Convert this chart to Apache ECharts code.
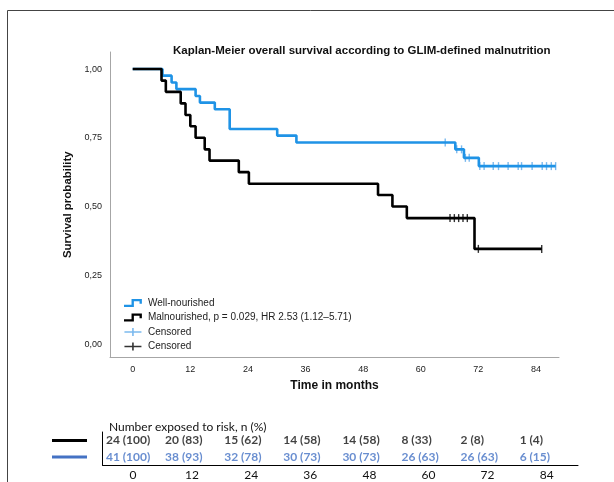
<!DOCTYPE html>
<html>
<head>
<meta charset="utf-8">
<script src="https://cdn.jsdelivr.net/npm/echarts@6/dist/echarts.min.js"></script>
<style>
  html, body { margin: 0; padding: 0; background: #fff; }
  #chart { width: 614px; height: 482px; }
</style>
</head>
<body>
<div id="chart"></div>
<script>
// Kaplan-Meier steps (months, survival probability)
const wellTimes = [0, 6.2, 8.1, 9.1, 13.1, 14, 17.1, 20.2, 30.1, 34.1, 67.2, 69, 72.1, 88.1]
const wellSurv = [1, 0.976, 0.951, 0.927, 0.902, 0.878, 0.854, 0.782, 0.758, 0.733, 0.708, 0.677, 0.647, 0.647]
const wellCensored = [65.1, 67.5, 68.5, 69.3, 70.1, 72.3, 73.2, 75.1, 76.2, 78.2, 80.3, 81.0, 83.2, 85.3, 86.2, 87.2, 88.1]

const malTimes = [0, 6.0, 6.9, 10, 11, 12, 13.1, 15, 16, 22.1, 24.2, 51.1, 54.1, 57.1, 71.2, 85.2]
const malSurv = [1, 0.958, 0.917, 0.875, 0.833, 0.792, 0.75, 0.708, 0.667, 0.625, 0.583, 0.542, 0.5, 0.458, 0.346, 0.346]
const malCensored = [66.1, 67.0, 67.9, 68.8, 69.7, 72.0, 85.2]

const xTicks = [0, 12, 24, 36, 48, 60, 72, 84]
const yTicks = [0, 0.25, 0.5, 0.75, 1]

// number at risk table
const riskTimes = [0, 12, 24, 36, 48, 60, 72, 84]
const riskMal = [24, 20, 15, 14, 14, 8, 2, 1]
const riskMalPct = [100, 83, 62, 58, 58, 33, 8, 4]
const riskWell = [41, 38, 32, 30, 30, 26, 26, 6]
const riskWellPct = [100, 93, 78, 73, 73, 63, 63, 15]

const malName = 'Malnourished, p = 0.029, HR 2.53 (1.12\u20135.71)'
const BLUE = '#1f93e6'
const TABLE_BLUE = '#4472c4'
const stepIcon = 'path://M0,7 L8,7 L8,1 L19,1 L19,6 L16.5,6 L16.5,3.5 L10.5,3.5 L10.5,9.5 L0,9.5 Z'
const plusIcon = 'path://M0,3.3 L7.7,3.3 L7.7,0 L9.3,0 L9.3,3.3 L17,3.3 L17,4.7 L9.3,4.7 L9.3,8 L7.7,8 L7.7,4.7 L0,4.7 Z'

function survAt(times, surv, t) {
  let s = surv[0]
  for (let i = 0; i < times.length; i++) {
    if (times[i] <= t) s = surv[i]
  }
  return s
}

const chart = echarts.init(document.getElementById('chart'))

chart.setOption({
  animation: false,
  backgroundColor: '#fff',
  textStyle: { fontFamily: 'Liberation Sans, Arial, sans-serif' },
  title: [
    {
      text: 'Kaplan-Meier overall survival according to GLIM-defined malnutrition',
      left: 168,
      top: 40,
      textStyle: { fontSize: 11.5, fontWeight: 'bold', color: '#111' },
    },
    {
      text: 'Number exposed to risk, n (%)',
      left: 104,
      top: 416,
      textStyle: { fontSize: 12, fontWeight: 'normal', color: '#111', fontFamily: 'Lato' },
    },
  ],
  legend: {
    orient: 'vertical',
    left: 124,
    top: 298,
    padding: 0,
    itemWidth: 20,
    itemHeight: 8,
    itemGap: 4.5,
    selectedMode: false,
    itemStyle: { borderWidth: 0 },
    textStyle: { fontSize: 10, color: '#222' },
    data: [
      { name: 'Well-nourished', icon: stepIcon },
      { name: malName, icon: stepIcon },
      { name: 'Censored', icon: plusIcon },
      { name: 'Censored ', icon: plusIcon },
    ],
  },
  grid: [
    { left: 110, right: 55, top: 52, bottom: 124.5 },
    { left: 102.5, right: 36, top: 432, bottom: 17 },
  ],
  xAxis: [
    {
      type: 'value',
      gridIndex: 0,
      min: -4.73,
      max: 88.8,
      name: 'Time in months',
      nameLocation: 'middle',
      nameGap: 21,
      nameTextStyle: { fontSize: 12, fontWeight: 'bold', color: '#111' },
      splitLine: { show: false },
      axisLine: { show: true, onZero: false, lineStyle: { color: '#a6a6a6', width: 1 } },
      axisTick: { show: false },
      axisLabel: { customValues: xTicks, fontSize: 9, color: '#222', margin: 8 },
    },
    {
      type: 'value',
      gridIndex: 1,
      min: -6.19,
      max: 90.36,
      splitLine: { show: false },
      axisLine: { show: true, onZero: false, lineStyle: { color: '#000', width: 1 } },
      axisTick: { show: false },
      axisLabel: { customValues: riskTimes, fontSize: 12, color: '#111', margin: 4, fontFamily: 'Lato' },
    },
  ],
  yAxis: [
    {
      type: 'value',
      gridIndex: 0,
      min: -0.049,
      max: 1.062,
      name: 'Survival probability',
      nameLocation: 'middle',
      nameGap: 31,
      nameTextStyle: { fontSize: 11.5, fontWeight: 'bold', color: '#111' },
      splitLine: { show: false },
      axisLine: { show: true, onZero: false, lineStyle: { color: '#a6a6a6', width: 1 } },
      axisTick: { show: false },
      axisLabel: {
        customValues: yTicks,
        fontSize: 9,
        color: '#222',
        margin: 8,
        formatter: (v) => v.toFixed(2).replace('.', ','),
      },
    },
    {
      type: 'category',
      gridIndex: 1,
      data: ['Well-nourished', 'Malnourished'],
      axisLine: { show: true, onZero: false, lineStyle: { color: '#000', width: 1 } },
      axisTick: { show: false },
      axisLabel: { show: false },
    },
  ],
  series: [
    {
      name: 'Well-nourished',
      type: 'line',
      step: 'end',
      showSymbol: false,
      color: BLUE,
      lineStyle: { color: BLUE, width: 2.6 },
      data: wellTimes.map((t, i) => [t, wellSurv[i]]),
    },
    {
      name: malName,
      type: 'line',
      step: 'end',
      showSymbol: false,
      color: '#000',
      lineStyle: { color: '#000', width: 2.6 },
      data: malTimes.map((t, i) => [t, malSurv[i]]),
    },
    {
      name: 'Censored',
      type: 'scatter',
      symbol: 'rect',
      symbolSize: [1.4, 8],
      color: '#5aa8ea',
      data: wellCensored.map((t) => [t, survAt(wellTimes, wellSurv, t)]),
    },
    {
      name: 'Censored ',
      type: 'scatter',
      symbol: 'rect',
      symbolSize: [1.4, 8],
      color: '#000',
      data: malCensored.map((t) => [t, survAt(malTimes, malSurv, t)]),
    },
    {
      type: 'scatter',
      xAxisIndex: 1,
      yAxisIndex: 1,
      symbolSize: 0,
      silent: true,
      itemStyle: { color: 'transparent' },
      label: {
        show: true,
        position: [-27, 0],
        align: 'left',
        verticalAlign: 'middle',
        fontFamily: 'Lato',
        fontSize: 12,
        fontWeight: 'bold',
        color: '#111',
        formatter: (p) => p.data[2] + ' (' + p.data[3] + ')',
      },
      data: riskTimes.map((t, i) => [t, 'Malnourished', riskMal[i], riskMalPct[i]]),
    },
    {
      type: 'scatter',
      xAxisIndex: 1,
      yAxisIndex: 1,
      symbolSize: 0,
      silent: true,
      itemStyle: { color: 'transparent' },
      label: {
        show: true,
        position: [-27, 0],
        align: 'left',
        verticalAlign: 'middle',
        fontFamily: 'Lato',
        fontSize: 12,
        fontWeight: 'bold',
        color: TABLE_BLUE,
        formatter: (p) => p.data[2] + ' (' + p.data[3] + ')',
      },
      data: riskTimes.map((t, i) => [t, 'Well-nourished', riskWell[i], riskWellPct[i]]),
    },
  ],
  graphic: [
    // outer frame
    {
      type: 'polyline',
      silent: true,
      shape: { points: [[7.5, 482], [7.5, 10.5], [614, 10.5]] },
      style: { stroke: '#444', lineWidth: 1, fill: null },
    },
    // row keys of the risk table
    {
      type: 'line',
      silent: true,
      shape: { x1: 52, y1: 440.5, x2: 87, y2: 440.5 },
      style: { stroke: '#000', lineWidth: 3 },
    },
    {
      type: 'line',
      silent: true,
      shape: { x1: 52, y1: 457, x2: 87, y2: 457 },
      style: { stroke: TABLE_BLUE, lineWidth: 3 },
    },
  ],
})
</script>
</body>
</html>
